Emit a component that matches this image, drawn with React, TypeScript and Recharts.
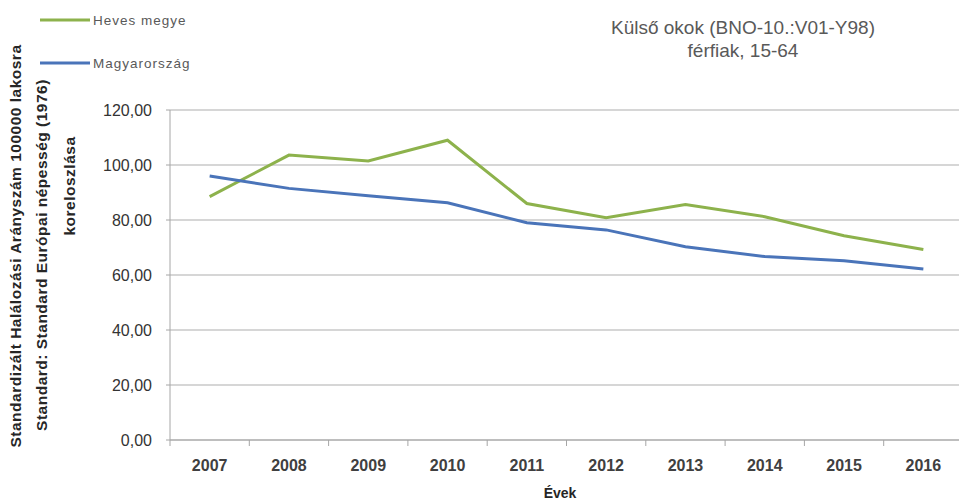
import React from "react";
import { LineChart, Line, XAxis, YAxis, CartesianGrid, Legend, Label } from "recharts";

const years = ["2007", "2008", "2009", "2010", "2011", "2012", "2013", "2014", "2015", "2016"];
const heves = [88.5, 103.6, 101.5, 109.0, 86.0, 80.8, 85.6, 81.2, 74.3, 69.3];
const magyar = [96.0, 91.5, 88.8, 86.3, 79.0, 76.4, 70.3, 66.7, 65.2, 62.2];
const yTicks = [0, 20, 40, 60, 80, 100, 120];
const seriesNames = ["Heves megye", "Magyarország"];
const titleLines = ["Külső okok (BNO-10.:V01-Y98)", "férfiak, 15-64"];
const yLabelLines = [
  "Standardizált Halálozási Arányszám  100000 lakosra",
  "Standard: Standard Európai népesség (1976)",
  "koreloszlása",
];
const xLabel = "Évek";

const data = years.map((y, i) => ({ year: y, heves: heves[i], magyar: magyar[i] }));

const GREEN = "#8DB24C";
const BLUE = "#4A74B9";
const W = 959;
const CW = 963;
const H = 502;
const LEFT = 170;
const BAND = (CW - LEFT) / years.length;
const FONT = "'Liberation Sans', Arial, sans-serif";

const XTick = (props: any) => {
  const { x, y, payload, index } = props;
  return (
    <g>
      <line x1={x - BAND / 2} x2={x - BAND / 2} y1={y} y2={y + 6} stroke="#A6A6A6" />
      {index === years.length - 1 ? (
        <line x1={x + BAND / 2} x2={x + BAND / 2} y1={y} y2={y + 6} stroke="#A6A6A6" />
      ) : null}
      <text x={x} y={y + 31} textAnchor="middle" fontSize={16} fontWeight="bold" fill="#404040" fontFamily={FONT}>
        {payload.value}
      </text>
    </g>
  );
};

const YTick = (props: any) => {
  const { x, y, payload } = props;
  return (
    <text x={x - 14} y={y + 6} textAnchor="end" fontSize={16} fill="#333333" fontFamily={FONT}>
      {Number(payload.value).toFixed(2).replace(".", ",")}
    </text>
  );
};

const YLabel = () => {
  const pos = [
    { x: 16, y: 246 },
    { x: 42, y: 255 },
    { x: 70, y: 186 },
  ];
  return (
    <g>
      {yLabelLines.map((t, i) => (
        <text
          key={i}
          x={pos[i].x}
          y={pos[i].y}
          dy={5}
          transform={`rotate(-90 ${pos[i].x} ${pos[i].y})`}
          textAnchor="middle"
          fontSize={15.5}
          fontWeight="bold"
          letterSpacing={0.5}
          fill="#262626"
          fontFamily={FONT}
        >
          {t}
        </text>
      ))}
    </g>
  );
};

const Overlay = () => (
  <svg width={W} height={H} style={{ position: "absolute", left: 0, top: 0, pointerEvents: "none" }}>
    {[GREEN, BLUE].map((c, i) => (
      <g key={i}>
        <line x1={40} x2={90} y1={20 + i * 43} y2={20 + i * 43} stroke={c} strokeWidth={3} />
        <text x={93} y={25 + i * 43} fontSize={13.5} letterSpacing={1} fill="#595959" fontFamily={FONT}>
          {seriesNames[i]}
        </text>
      </g>
    ))}
    {titleLines.map((t, i) => (
      <text key={"t" + i} x={743} y={34 + i * 23} textAnchor="middle" fontSize={19} fill="#595959" fontFamily={FONT}>
        {t}
      </text>
    ))}
    <text x={560} y={498} textAnchor="middle" fontSize={14} fontWeight="bold" fill="#262626" fontFamily={FONT}>
      {xLabel}
    </text>
  </svg>
);

export default function App() {
  return (
    <div style={{ position: "absolute", left: 0, top: 0, width: W, height: H, background: "#fff", overflow: "hidden" }}>
      <LineChart width={CW} height={H} data={data} margin={{ top: 110, right: 0, bottom: 32, left: 0 }}>
        <CartesianGrid vertical={false} stroke="#C8C8C8" strokeWidth={1.5} />
        <XAxis
          dataKey="year"
          height={30}
          stroke="#A6A6A6"
          tickLine={false}
          tickSize={0}
          tickMargin={0}
          tick={<XTick />}
          interval={0}
          padding={{ left: BAND / 2, right: BAND / 2 }}
        />
        <YAxis
          width={LEFT}
          domain={[0, 120]}
          ticks={yTicks}
          stroke="#A6A6A6"
          tickSize={4}
          tickMargin={0}
          tick={<YTick />}
        >
          <Label content={<YLabel />} />
        </YAxis>
        <Legend content={() => null} />
        <Line dataKey="heves" name={seriesNames[0]} stroke={GREEN} strokeWidth={3} dot={false} isAnimationActive={false} />
        <Line dataKey="magyar" name={seriesNames[1]} stroke={BLUE} strokeWidth={3} dot={false} isAnimationActive={false} />
      </LineChart>
      <Overlay />
    </div>
  );
}
